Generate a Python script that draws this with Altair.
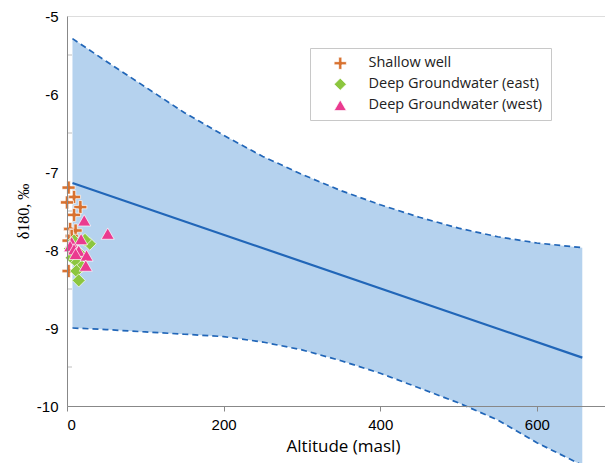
import altair as alt
import pandas as pd

# ---- data ----
band_x = [7, 50, 100, 150, 200, 250, 300, 350, 400, 450, 500, 550, 600, 658]
band_upper = [-5.29, -5.58, -5.91, -6.24, -6.53, -6.80, -7.03, -7.24, -7.42, -7.58, -7.72, -7.83, -7.91, -7.97]
band_lower = [-9.00, -9.02, -9.05, -9.08, -9.11, -9.18, -9.28, -9.42, -9.58, -9.77, -9.96, -10.18, -10.47, -10.76]

fit_x = [7, 658]
fit_y = [-7.14, -9.38]

shallow_x = [2, 9, 0, 17, 9, 4, 11, 6, 2, 2]
shallow_y = [-7.20, -7.32, -7.39, -7.45, -7.55, -7.73, -7.75, -7.82, -7.88, -8.27]

east_x = [29, 23, 9, 4, 11, 17, 6, 13, 19, 12, 15]
east_y = [-7.92, -7.87, -7.88, -7.98, -8.00, -8.05, -8.10, -8.16, -8.21, -8.27, -8.39]

west_x = [22, 52, 18, 6, 4, 9, 15, 11, 25, 24]
west_y = [-7.62, -7.79, -7.86, -7.90, -7.95, -7.99, -8.01, -8.05, -8.07, -8.20]

groups = ["Shallow well", "Deep Groundwater (east)", "Deep Groundwater (west)"]
y_minor = [-5.5, -6.5, -7.5, -8.5, -9.5]
x_ticks = [0, 200, 400, 600]
y_ticks = [-10, -9, -8, -7, -6, -5]

# ---- tables ----
band_df = pd.DataFrame({"x": band_x, "upper": band_upper, "lower": band_lower})
fit_df = pd.DataFrame({"x": fit_x, "y": fit_y})
pts = pd.concat([
    pd.DataFrame({"x": shallow_x, "y": shallow_y, "g": groups[0]}),
    pd.DataFrame({"x": east_x, "y": east_y, "g": groups[1]}),
    pd.DataFrame({"x": west_x, "y": west_y, "g": groups[2]}),
], ignore_index=True)
pts["o"] = range(len(pts))
minor_df = pd.DataFrame({"v": y_minor})

FONT = "Open Sans"
AX = "#BFBFBF"
TXT = "#404040"
LINE = "#2166B8"
PLUS = "M-0.26,-1H0.26V-0.26H1V0.26H0.26V1H-0.26V0.26H-1V-0.26H-0.26Z"

xs = alt.Scale(domain=[0, 687], nice=False, zero=False)
ys = alt.Scale(domain=[-10, -5], nice=False, zero=False)

x_axis = alt.Axis(values=x_ticks, title="Altitude (masl)", tickSize=5, labelPadding=6, grid=False,
                  labelFontSize=15, titleFontSize=17, titleFontWeight="normal", titleFont=FONT,
                  titleX=276, titleY=40, titleBaseline="middle", zindex=1)
y_axis = alt.Axis(values=y_ticks, title="δ180, ‰", ticks=False, labelPadding=9, grid=False,
                  labelFontSize=15, labelExpr="'-' + abs(datum.value)",
                  titleFont="Liberation Sans Narrow", titleFontSize=16, titleFontWeight="normal",
                  titleX=-44, titleY=195, titleBaseline="middle", titleAngle=-90, zindex=1)

band = alt.Chart(band_df).mark_area(color="#B5D2EE", opacity=1, clip=False).encode(
    x=alt.X("x:Q", scale=xs, axis=x_axis),
    y=alt.Y("upper:Q", scale=ys, axis=y_axis),
    y2="lower:Q",
)
upper = alt.Chart(band_df).mark_line(color=LINE, strokeWidth=1.7, strokeDash=[6, 4]).encode(
    x=alt.X("x:Q", scale=xs), y=alt.Y("upper:Q", scale=ys))
lower = alt.Chart(band_df).mark_line(color=LINE, strokeWidth=1.7, strokeDash=[6, 4], clip=False).encode(
    x=alt.X("x:Q", scale=xs), y=alt.Y("lower:Q", scale=ys))
fit = alt.Chart(fit_df).mark_line(color=LINE, strokeWidth=2.2).encode(
    x=alt.X("x:Q", scale=xs), y=alt.Y("y:Q", scale=ys))
minor = alt.Chart(minor_df).mark_rule(color=AX, strokeWidth=1).encode(
    y=alt.Y("v:Q", scale=ys), x=alt.value(0), x2=alt.value(5))

points = alt.Chart(pts).mark_point(filled=True, opacity=1, size=170, stroke="white", strokeWidth=0.7).encode(
    x=alt.X("x:Q", scale=xs),
    y=alt.Y("y:Q", scale=ys),
    color=alt.Color("g:N", scale=alt.Scale(domain=groups, range=["#D8712F", "#8CC63F", "#EA3A8F"]),
                    legend=alt.Legend(title=None, orient="none", legendX=243, legendY=32,
                                      strokeColor="#C8C8C8", fillColor="white", padding=8,
                                      symbolOffset=15, labelOffset=21, rowPadding=5, labelLimit=400,
                                      labelFontSize=14.5, labelColor="#222222", labelFont=FONT,
                                      symbolSize=150, symbolStrokeWidth=0.7)),
    shape=alt.Shape("g:N", scale=alt.Scale(domain=groups, range=[PLUS, "diamond", "triangle-up"])),
    order=alt.Order("o:Q"),
)

chart = alt.layer(band, upper, lower, fit, minor, points).properties(
    width=538, height=390,
    autosize=alt.AutoSizeParams(type="none"),
    padding={"left": 67, "top": 16, "right": 0, "bottom": 57},
).configure_view(stroke=None).configure_axis(
    domainColor=AX, tickColor=AX, grid=False, labelColor=TXT, titleColor=TXT,
    labelFont=FONT, titleFont=FONT,
).configure(background="white")

chart.save("out.html", embed_options={"renderer": "svg", "actions": False})
